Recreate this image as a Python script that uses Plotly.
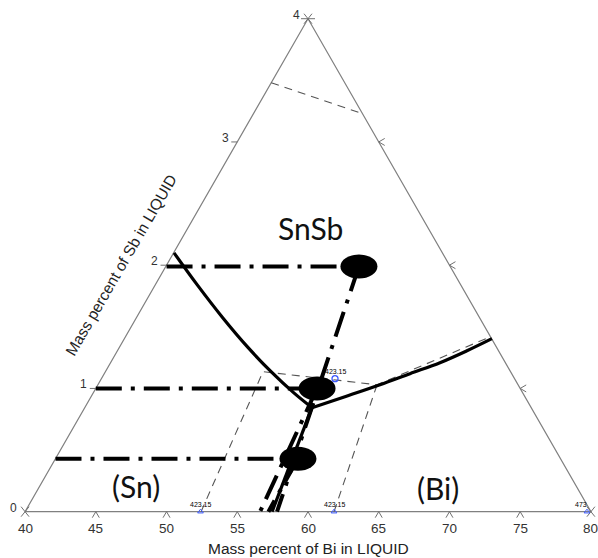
import plotly.graph_objects as go

# ---------------- data (x = reading on the Bi axis, y = mass percent Sb) -------------
bi_ticks = [40, 45, 50, 55, 60, 65, 70, 75, 80]
sb_ticks = [0, 1, 2, 3, 4]

tri_x = [40, 80, 60, 40]
tri_y = [0, 0, 4, 0]

# solid phase boundaries
left_curve_x = [50.53, 52.16, 53.97, 55.77, 57.39, 58.98, 60.28]
left_curve_y = [2.10, 1.842, 1.574, 1.331, 1.136, 0.966, 0.844]
right_curve_x = [60.28, 62.61, 65.09, 67.21, 69.33, 71.24, 73.00]
right_curve_y = [0.844, 0.933, 1.030, 1.120, 1.209, 1.306, 1.404]
lower_curve_x = [60.28, 57.46]
lower_curve_y = [0.844, 0.0]

# experimental points (black ellipses)
pt_x = [63.60, 60.64, 59.29]
pt_y = [1.99, 1.0, 0.43]

# dash-dot tie lines: horizontal start on left edge, diagonal end on bottom
h_start_x = [50.0, 45.0, 42.15]
diag_end_x = [57.81, 56.61, 57.20]

# thin dashed isotherms
iso_top_x = [57.40, 63.85]
iso_top_y = [3.48, 3.23]
iso_a_x = [52.44, 56.82, 64.88, 72.90]
iso_a_y = [0.0, 1.136, 1.030, 1.420]
iso_b_x = [64.88, 61.84]
iso_b_y = [1.030, 0.0]

# small temperature labels
temp_x = [61.91, 52.40, 61.84, 79.72]
temp_y = [1.079, 0.0, 0.0, 0.0]
temp_txt = ["423.15", "423.15", "423.15", "473"]

# ---------------- layout geometry ----------------
W, H = 598, 558
ML, MR, MT, MB = 18, 0, 7, 34
XR = [39.5, 80.5]
YR = [-0.1, 4.095]
sx = (W - ML - MR) / (XR[1] - XR[0])   # px per x unit
sy = (H - MT - MB) / (YR[1] - YR[0])   # px per y unit

def off(x, y, dxp, dyp):
    return x + dxp / sx, y + dyp / sy

fig = go.Figure()

# triangle
fig.add_trace(go.Scatter(x=tri_x, y=tri_y, mode="lines",
                         line=dict(color="#808080", width=1.2), hoverinfo="skip"))

# ticks
tx, ty = [], []
def seg(p, q):
    tx.extend([p[0], q[0], None]); ty.extend([p[1], q[1], None])

for b in bi_ticks[1:-1]:
    seg(off(b, 0, -3.5, -6), (b, 0)); seg((b, 0), off(b, 0, 3.5, -6))
for s in sb_ticks[1:-1]:
    lx = 40 + 5 * s
    seg(off(lx, s, -6, 0), (lx, s))
    rx = 80 - 5 * s
    seg(off(rx, s, 6, 3.5), (rx, s)); seg((rx, s), off(rx, s, 6, -3.5))
for (vx, vy) in [(40, 0), (80, 0)]:
    seg(off(vx, vy, -4, -5), off(vx, vy, 4, 5)); seg(off(vx, vy, -4, 5), off(vx, vy, 4, -5))
seg(off(60, 4, -7, 0), off(60, 4, 7, 0))
seg(off(60, 4, -4, -5), off(60, 4, 4, 5)); seg(off(60, 4, -4, 5), off(60, 4, 4, -5))
fig.add_trace(go.Scatter(x=tx, y=ty, mode="lines", line=dict(color="#707070", width=1),
                         hoverinfo="skip"))

# thin dashed isotherms
for xs, ys in [(iso_top_x, iso_top_y), (iso_a_x, iso_a_y), (iso_b_x, iso_b_y)]:
    fig.add_trace(go.Scatter(x=xs, y=ys, mode="lines",
                             line=dict(color="#555555", width=1.1, dash="8px,6px"),
                             hoverinfo="skip"))

# dash-dot tie lines
dd = "26px,9px,4px,9px"
for hx, px_, py_ in zip(h_start_x, pt_x, pt_y):
    fig.add_trace(go.Scatter(x=[hx, px_], y=[py_, py_], mode="lines",
                             line=dict(color="black", width=4, dash=dd), hoverinfo="skip"))
for ex, px_, py_ in zip(diag_end_x, pt_x, pt_y):
    fig.add_trace(go.Scatter(x=[px_, ex], y=[py_, 0], mode="lines",
                             line=dict(color="black", width=4, dash=dd), hoverinfo="skip"))

# solid boundaries
for xs, ys in [(left_curve_x, left_curve_y), (right_curve_x, right_curve_y),
               (lower_curve_x, lower_curve_y)]:
    fig.add_trace(go.Scatter(x=xs, y=ys, mode="lines",
                             line=dict(color="black", width=3.2, shape="spline", smoothing=1.0),
                             hoverinfo="skip"))

# temperature markers
fig.add_trace(go.Scatter(x=temp_x[:1], y=temp_y[:1], mode="markers",
                         marker=dict(symbol="circle-open", size=6, color="#3d5afe",
                                     line=dict(width=1.3)), hoverinfo="skip"))
fig.add_trace(go.Scatter(x=temp_x[1:], y=temp_y[1:], mode="markers",
                         marker=dict(symbol="triangle-up-open", size=5, color="#3d5afe",
                                     line=dict(width=1)), hoverinfo="skip", cliponaxis=False))

# ellipses
for x, y in zip(pt_x, pt_y):
    fig.add_shape(type="circle", xref="x", yref="y", xsizemode="pixel", ysizemode="pixel",
                  xanchor=x, yanchor=y, x0=-18.5, x1=18.5, y0=-12, y1=12,
                  fillcolor="black", line=dict(color="black", width=0), layer="above")

ann = []
tick_font = dict(family="Liberation Sans, Arial", size=13.5, color="#333333")
for b in bi_ticks:
    ann.append(dict(x=b, y=0, text=str(b), showarrow=False, yshift=-17, font=tick_font))
for s in sb_ticks:
    ann.append(dict(x=40 + 5 * s, y=s, text=str(s), showarrow=False, xshift=-12, yshift=4,
                    font=dict(family="Liberation Sans, Arial", size=12, color="#333333")))
for x, y, t in zip(temp_x, temp_y, temp_txt):
    ann.append(dict(x=x, y=y, text=t, showarrow=False, yshift=7,
                    xshift=1 if t != "473" else -6,
                    font=dict(family="Liberation Sans, Arial", size=7, color="#000000")))
title_font = dict(family="Liberation Sans, Arial", size=15.5, color="#222222")
ann.append(dict(x=60, y=0, text="Mass percent of Bi in LIQUID", showarrow=False, yshift=-37,
                font=title_font))
ann.append(dict(x=50, y=2, text="Mass percent of Sb in LIQUID", showarrow=False, xshift=-46,
                textangle=-60, font=title_font))
big = dict(family="Lato, Open Sans", size=30, color="#111111")
ann.append(dict(x=60.21, y=2.30, text="SnSb", showarrow=False, font=big))
ann.append(dict(x=47.81, y=0.207, text="(Sn)", showarrow=False, font=big))
ann.append(dict(x=69.19, y=0.195, text="(Bi)", showarrow=False, font=big))

fig.update_layout(
    width=W, height=H, margin=dict(l=ML, r=MR, t=MT, b=MB),
    paper_bgcolor="white", plot_bgcolor="white", showlegend=False,
    xaxis=dict(range=XR, visible=False, fixedrange=True),
    yaxis=dict(range=YR, visible=False, fixedrange=True),
    annotations=ann,
)
fig.write_html("out.html")
